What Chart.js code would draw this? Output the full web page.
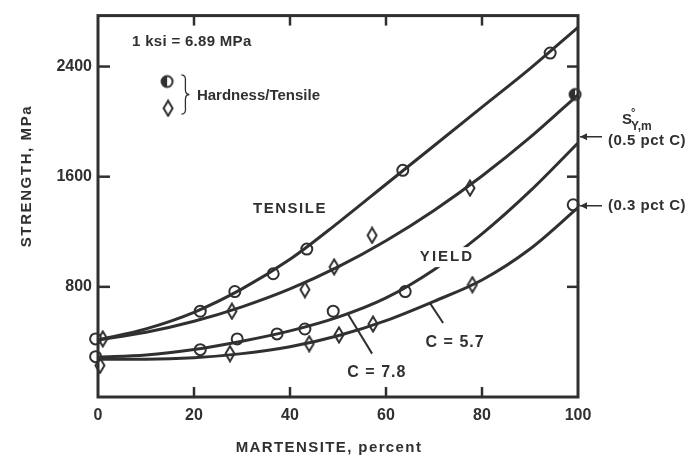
<!DOCTYPE html>
<html>
<head>
<meta charset="utf-8">
<script src="https://cdn.jsdelivr.net/npm/chart.js@4.4.0/dist/chart.umd.min.js"></script>
<style>
  body { margin: 0; background: #fff; }
  #wrap { width: 695px; height: 461px; }
</style>
</head>
<body>
<div id="wrap"><canvas id="chart" width="695" height="461"></canvas></div>
<script>
// curves, read at every 10 percent martensite
const curveX = [0, 10, 20, 30, 40, 50, 60, 70, 80, 90, 100];
const tensileUpper = [415, 495, 615, 785, 1000, 1265, 1545, 1825, 2105, 2385, 2685];
const tensileLower = [415, 470, 550, 655, 785, 945, 1135, 1355, 1605, 1885, 2195];
const yieldUpper = [290, 305, 345, 405, 480, 580, 720, 925, 1185, 1495, 1845];
const yieldLower = [275, 275, 285, 315, 365, 445, 555, 695, 850, 1075, 1375];

// measured points
const tensCircX = [-0.5, 21.3, 28.5, 36.5, 43.5, 63.5, 94.2];
const tensCircY = [422, 623, 766, 895, 1074, 1646, 2498];
const tensDiaX = [1.0, 27.9, 43.1, 49.2, 57.1, 77.5];
const tensDiaY = [422, 623, 780, 945, 1174, 1517];
const halfCircX = [99.4];
const halfCircY = [2197];
const yieldCircX = [-0.5, 21.3, 29, 37.3, 43.1, 49, 64, 99];
const yieldCircY = [293, 344, 422, 458, 494, 623, 766, 1396];
const yieldDiaX = [0.4, 27.5, 44, 50.2, 57.3, 78];
const yieldDiaY = [229, 315, 387, 451, 530, 816];

const xTicks = [0, 20, 40, 60, 80, 100];
const yTicks = [800, 1600, 2400];

const ink = '#303030';
const font = '"Liberation Sans", Arial, sans-serif';

function pts(xs, ys) {
    return xs.map((x, i) => ({ x: x, y: ys[i] }));
}

// tall diamond marker
const diamond = document.createElement('canvas');
diamond.width = 12; diamond.height = 18;
(function () {
    const c = diamond.getContext('2d');
    c.beginPath();
    c.moveTo(6, 1.5); c.lineTo(10.5, 9); c.lineTo(6, 16.5); c.lineTo(1.5, 9); c.closePath();
    c.fillStyle = '#fff'; c.fill();
    c.lineWidth = 2; c.strokeStyle = ink; c.stroke();
})();

// half filled circle marker
const halfCircle = document.createElement('canvas');
halfCircle.width = 16; halfCircle.height = 16;
(function () {
    const c = halfCircle.getContext('2d');
    c.beginPath(); c.arc(8, 8, 5.5, 0, Math.PI * 2);
    c.fillStyle = '#fff'; c.fill();
    c.beginPath(); c.arc(8, 8, 5.5, Math.PI / 2, Math.PI * 1.5); c.closePath();
    c.fillStyle = ink; c.fill();
    c.beginPath(); c.arc(8, 8, 5.5, 0, Math.PI * 2);
    c.lineWidth = 2; c.strokeStyle = ink; c.stroke();
})();

function curve(values) {
    return {
        type: 'line',
        data: pts(curveX, values),
        borderColor: ink,
        borderWidth: 3,
        pointRadius: 0,
        cubicInterpolationMode: 'monotone',
        showLine: true,
        clip: false
    };
}

function marks(xs, ys, style) {
    return {
        type: 'scatter',
        data: pts(xs, ys),
        pointStyle: style,
        pointRadius: 5.5,
        borderWidth: 2,
        borderColor: ink,
        backgroundColor: '#fff',
        clip: false
    };
}

function line(ctx, x1, y1, x2, y2) {
    ctx.beginPath(); ctx.moveTo(x1, y1); ctx.lineTo(x2, y2); ctx.stroke();
}

function text(ctx, str, x, y, size, align, spacing) {
    ctx.font = 'bold ' + size + 'px ' + font;
    ctx.letterSpacing = (spacing || 0) + 'px';
    ctx.textAlign = align || 'center';
    ctx.textBaseline = 'middle';
    ctx.fillText(str, x, y);
}

const frame = {
    id: 'frame',
    afterDatasetsDraw(chart) {
        const { ctx, chartArea: a, scales: { x, y } } = chart;
        ctx.save();
        ctx.strokeStyle = ink;
        ctx.lineWidth = 3;
        ctx.strokeRect(a.left, a.top, a.right - a.left, a.bottom - a.top);
        ctx.lineWidth = 2.5;
        xTicks.slice(1, -1).forEach(v => {
            const px = x.getPixelForValue(v);
            line(ctx, px, a.top, px, a.top + 10);
            line(ctx, px, a.bottom, px, a.bottom - 10);
        });
        yTicks.forEach(v => {
            const py = y.getPixelForValue(v);
            line(ctx, a.left, py, a.left + 12, py);
            line(ctx, a.right, py, a.right - 11, py);
        });
        ctx.restore();
    }
};

const notes = {
    id: 'notes',
    afterDraw(chart) {
        const { ctx, chartArea: a, scales: { x, y } } = chart;
        const X = v => x.getPixelForValue(v);
        const Y = v => y.getPixelForValue(v);
        ctx.save();
        ctx.fillStyle = ink;
        ctx.strokeStyle = ink;

        // axis titles
        text(ctx, 'MARTENSITE, percent', 329, 448, 15, 'center', 1.4);
        ctx.save();
        ctx.translate(27, 176);
        ctx.rotate(-Math.PI / 2);
        text(ctx, 'STRENGTH, MPa', 0, 0, 15, 'center', 1.6);
        ctx.restore();

        text(ctx, '1 ksi = 6.89 MPa', X(7.1), Y(2577), 15, 'left', 0.3);

        // key
        ctx.drawImage(halfCircle, X(14.4) - 8, Y(2291) - 8);
        ctx.drawImage(diamond, X(14.6) - 6, Y(2097) - 9);
        const bx = X(18), bt = Y(2340), bb = Y(2054), bm = (bt + bb) / 2;
        ctx.lineWidth = 1.3;
        ctx.beginPath();
        ctx.moveTo(bx - 3, bt);
        ctx.quadraticCurveTo(bx + 2, bt, bx + 1, bt + 8);
        ctx.lineTo(bx + 1, bm - 5);
        ctx.quadraticCurveTo(bx + 1, bm, bx + 5, bm);
        ctx.quadraticCurveTo(bx + 1, bm, bx + 1, bm + 5);
        ctx.lineTo(bx + 1, bb - 8);
        ctx.quadraticCurveTo(bx + 2, bb, bx - 3, bb);
        ctx.stroke();
        text(ctx, 'Hardness/Tensile', X(20.6), Y(2190), 15, 'left', 0);

        text(ctx, 'TENSILE', X(40), Y(1367), 15, 'center', 1.5);

        // YIELD label sits on a gap in the curve
        ctx.fillStyle = '#fff';
        ctx.fillRect(X(72.7) - 30, Y(1016) - 10, 60, 20);
        ctx.fillStyle = ink;
        text(ctx, 'YIELD', X(72.7), Y(1016), 15, 'center', 2);

        ctx.lineWidth = 2;
        line(ctx, X(52.1), Y(601), X(57.1), Y(315));
        line(ctx, X(69.2), Y(680), X(71.9), Y(537));
        text(ctx, 'C = 7.8', X(58.1), Y(179), 16, 'center', 1);
        text(ctx, 'C = 5.7', X(74.4), Y(394), 16, 'center', 1);

        // right side notes
        ctx.lineWidth = 1.5;
        [1890, 1389].forEach(v => {
            const py = Y(v);
            line(ctx, a.right + 2, py, a.right + 24, py);
            ctx.beginPath();
            ctx.moveTo(a.right + 2, py);
            ctx.lineTo(a.right + 9, py - 3.5);
            ctx.lineTo(a.right + 9, py + 3.5);
            ctx.closePath();
            ctx.fill();
        });
        text(ctx, '(0.5 pct C)', a.right + 30, Y(1890) + 4, 15, 'left', 0.5);
        text(ctx, '(0.3 pct C)', a.right + 30, Y(1389), 15, 'left', 0.5);
        text(ctx, 'S', a.right + 44, 120, 15, 'left', 0);
        text(ctx, '°', a.right + 53, 113, 11, 'left', 0);
        text(ctx, 'Y,m', a.right + 53, 127, 12, 'left', 0);
        ctx.restore();
    }
};

new Chart(document.getElementById('chart'), {
    type: 'scatter',
    data: {
        datasets: [
            curve(tensileUpper),
            curve(tensileLower),
            curve(yieldUpper),
            curve(yieldLower),
            marks(tensCircX, tensCircY, 'circle'),
            marks(tensDiaX, tensDiaY, diamond),
            marks(halfCircX, halfCircY, halfCircle),
            marks(yieldCircX, yieldCircY, 'circle'),
            marks(yieldDiaX, yieldDiaY, diamond)
        ]
    },
    options: {
        responsive: false,
        animation: false,
        layout: { padding: { top: 10, right: 117, left: 0, bottom: 0 } },
        plugins: {
            legend: { display: false },
            tooltip: { enabled: false }
        },
        scales: {
            x: {
                type: 'linear',
                min: 0,
                max: 100,
                grid: { display: false, drawTicks: false },
                border: { display: false },
                afterBuildTicks: s => { s.ticks = xTicks.map(v => ({ value: v })); },
                afterFit: s => { s.height = 64; },
                ticks: {
                    padding: 9,
                    color: ink,
                    font: { family: font, size: 16, weight: 'bold' },
                    callback: v => String(v)
                }
            },
            y: {
                type: 'linear',
                min: 0,
                max: 2770,
                grid: { display: false, drawTicks: false },
                border: { display: false },
                afterBuildTicks: s => { s.ticks = yTicks.map(v => ({ value: v })); },
                afterFit: s => { s.width = 98; },
                ticks: {
                    padding: 6,
                    color: ink,
                    font: { family: font, size: 16, weight: 'bold' },
                    callback: v => String(v)
                }
            }
        }
    },
    plugins: [frame, notes]
});
</script>
</body>
</html>
